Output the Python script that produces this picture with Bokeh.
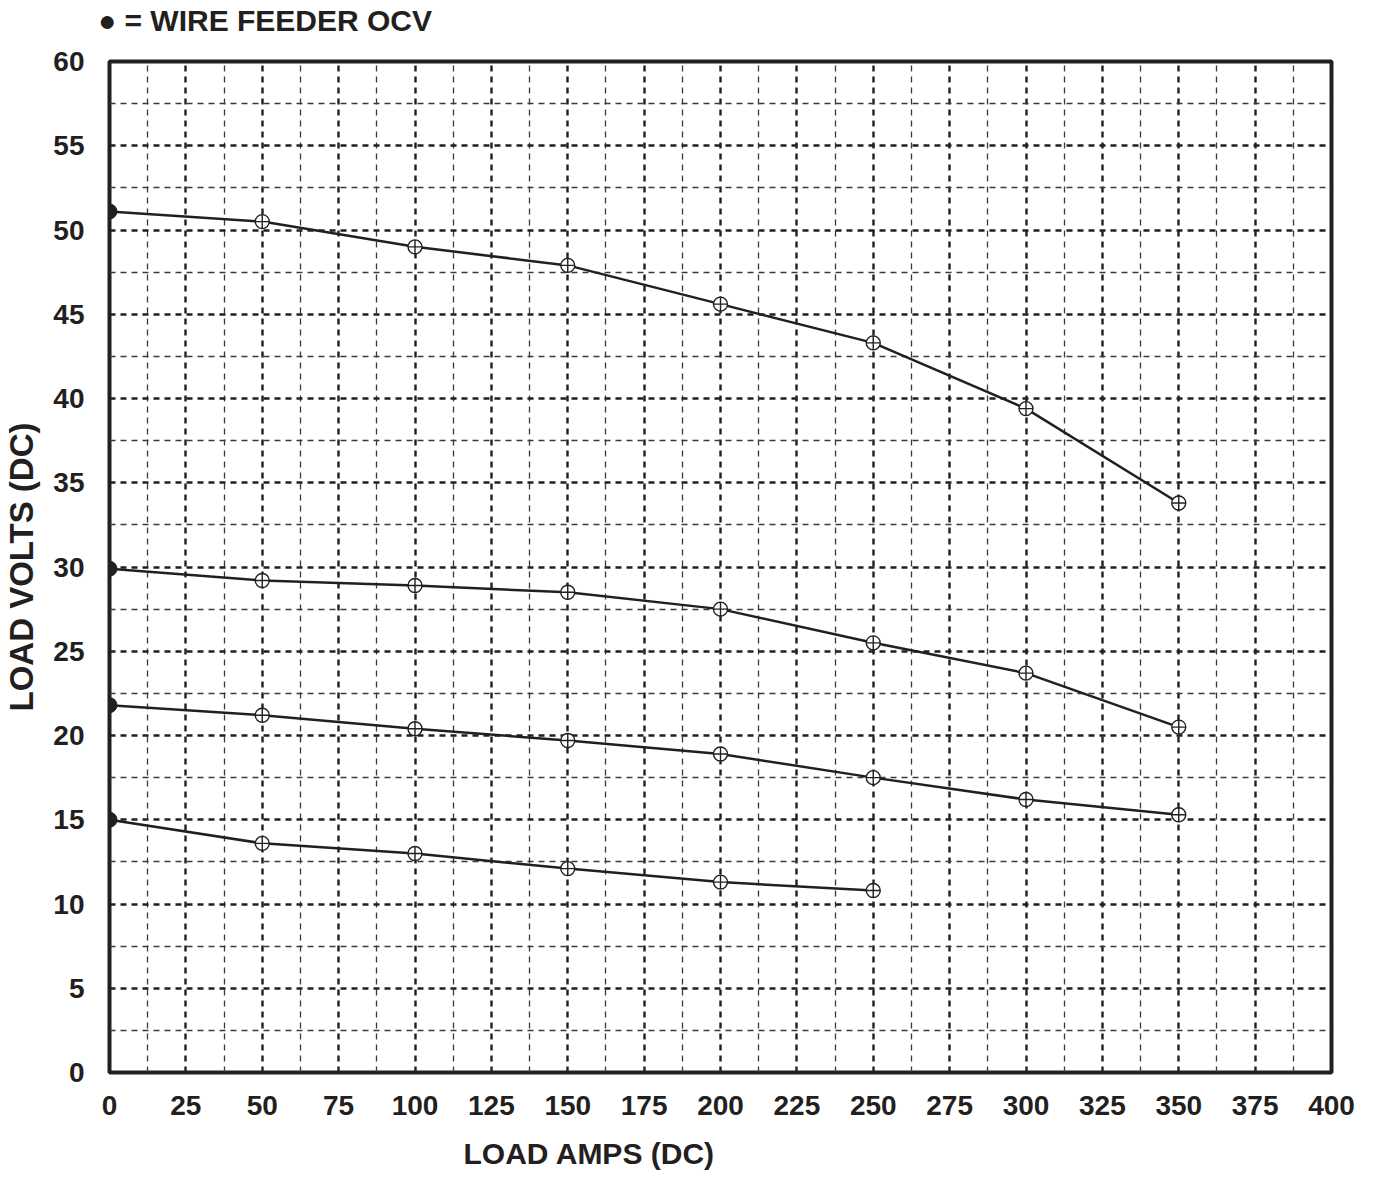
from bokeh.plotting import figure
from bokeh.models import Range1d, FixedTicker, Title, Div
from bokeh.layouts import column
from bokeh.embed import file_html
from bokeh.resources import INLINE

# ---- data ----
amps = [0, 50, 100, 150, 200, 250, 300, 350]
volts_1 = [51.1, 50.5, 49.0, 47.9, 45.6, 43.3, 39.4, 33.8]
volts_2 = [29.9, 29.2, 28.9, 28.5, 27.5, 25.5, 23.7, 20.5]
volts_3 = [21.8, 21.2, 20.4, 19.7, 18.9, 17.5, 16.2, 15.3]
amps_4 = [0, 50, 100, 150, 200, 250]
volts_4 = [15.0, 13.6, 13.0, 12.1, 11.3, 10.8]

x_ticks = [0, 25, 50, 75, 100, 125, 150, 175, 200, 225, 250, 275, 300, 325, 350, 375, 400]
x_minor = [12.5, 37.5, 62.5, 87.5, 112.5, 137.5, 162.5, 187.5, 212.5, 237.5, 262.5, 287.5, 312.5, 337.5, 362.5, 387.5]
y_ticks = [0, 5, 10, 15, 20, 25, 30, 35, 40, 45, 50, 55, 60]
y_minor = [2.5, 7.5, 12.5, 17.5, 22.5, 27.5, 32.5, 37.5, 42.5, 47.5, 52.5, 57.5]

title_text = "\u25cf = WIRE FEEDER OCV"
x_title = "LOAD AMPS (DC)"
y_title = "LOAD VOLTS (DC)"

FONT = "Liberation Sans"
INK = "#231f20"

head = Div(text=title_text, width=600, height=36, margin=(0, 0, 0, 98),
           styles={"font-family": FONT, "font-weight": "bold", "font-size": "30px",
                   "color": INK, "line-height": "30px", "padding-top": "6px"})

p = figure(width=1372, height=1150, output_backend="svg", toolbar_location=None,
           x_range=Range1d(0, 400), y_range=Range1d(0, 60),
           min_border_left=104, min_border_right=41, min_border_top=25, min_border_bottom=107)

p.outline_line_color = INK
p.outline_line_width = 4

p.xaxis.ticker = FixedTicker(ticks=x_ticks, minor_ticks=x_minor)
p.yaxis.ticker = FixedTicker(ticks=y_ticks, minor_ticks=y_minor)

for ax in (p.xaxis[0], p.yaxis[0]):
    ax.axis_line_color = None
    ax.major_tick_line_color = None
    ax.minor_tick_line_color = None
    ax.major_label_text_font = FONT
    ax.major_label_text_font_style = "bold"
    ax.major_label_text_font_size = "28px"
    ax.major_label_text_color = INK

p.xaxis.major_label_standoff = 17
p.yaxis.major_label_standoff = 19

p.yaxis.axis_label = y_title
p.yaxis.axis_label_text_font = FONT
p.yaxis.axis_label_text_font_style = "bold"
p.yaxis.axis_label_text_font_size = "33px"
p.yaxis.axis_label_text_color = INK
p.yaxis.axis_label_standoff = 10

xt = Title(text=x_title, align="left", offset=354, standoff=34,
           text_font=FONT, text_font_style="bold", text_font_size="30px", text_color=INK)
p.add_layout(xt, "below")

for g in (p.xgrid[0], p.ygrid[0]):
    g.grid_line_color = INK
    g.grid_line_width = 2.4
    g.grid_line_dash = "6 5"
    g.minor_grid_line_color = "#3a3a3a"
    g.minor_grid_line_width = 1.3
    g.minor_grid_line_dash = "6 5"

series = [(amps, volts_1), (amps, volts_2), (amps, volts_3), (amps_4, volts_4)]
for xs, ys in series:
    p.line(xs, ys, line_color=INK, line_width=2.5)
    p.scatter(xs[1:], ys[1:], marker="circle_cross", size=14, fill_color="white",
              line_color=INK, line_width=1.4)
    p.scatter(xs[:1], ys[:1], marker="circle", size=15, fill_color=INK,
              line_color=INK)

layout = column(head, p, spacing=0)
open("out.html", "w").write(file_html(layout, INLINE))
